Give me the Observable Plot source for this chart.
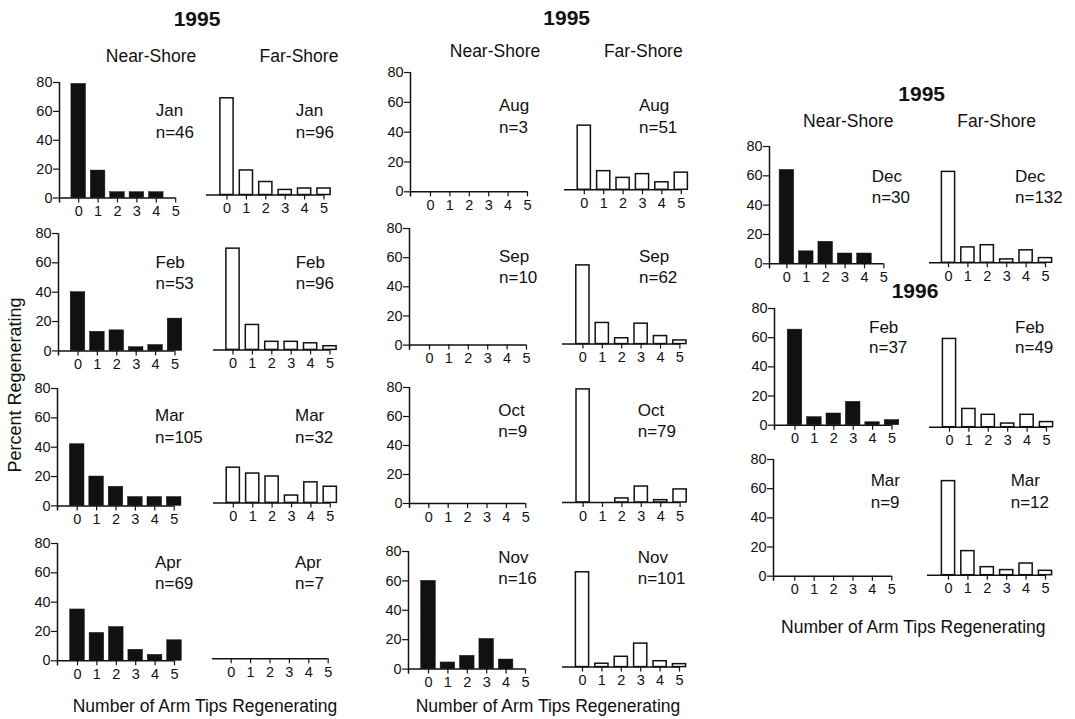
<!DOCTYPE html>
<html><head><meta charset="utf-8">
<script src="https://cdn.jsdelivr.net/npm/d3@7"></script>
<script src="https://cdn.jsdelivr.net/npm/@observablehq/plot@0.6"></script>
<style>
body{margin:0;background:#fff;}
#root{position:relative;width:1075px;height:719px;overflow:hidden;font-family:"Liberation Sans",Arial,Helvetica,sans-serif;color:#111;}
#root svg text{font-size:14.5px !important;font-family:"Liberation Sans",Arial,Helvetica,sans-serif !important;}
.lbl{position:absolute;white-space:nowrap;line-height:1;font-size:17px;}
.c{transform:translate(-50%,-50%);font-size:17.5px;}
.l{transform:translate(0,-50%);}
.b{font-weight:bold;font-size:21px;}
.rot{transform:translate(-50%,-50%) rotate(-90deg);font-size:18px;}
</style></head><body><div id="root"></div>
<script>
// ---- data ----
const armTips = [0, 1, 2, 3, 4, 5];
const pctTicks = [0, 20, 40, 60, 80];
const months = ["Jan", "Feb", "Mar", "Apr", "Aug", "Sep", "Oct", "Nov", "Dec", "Feb", "Mar"];
const nNear = [46, 53, 105, 69, 3, 10, 9, 16, 30, 37, 9];
const nFar = [96, 96, 32, 7, 51, 62, 79, 101, 132, 49, 12];
const nearPct = [
  [79, 19, 4, 4, 4, 0],        // Jan 1995
  [40, 13, 14, 2.5, 4, 22],    // Feb 1995
  [42, 20, 13, 6, 6, 6],       // Mar 1995
  [35, 19, 23, 7.5, 4, 14],    // Apr 1995
  [0, 0, 0, 0, 0, 0],          // Aug 1995
  [0, 0, 0, 0, 0, 0],          // Sep 1995
  [0, 0, 0, 0, 0, 0],          // Oct 1995
  [60, 4.5, 9, 20.5, 6.5, 0],  // Nov 1995
  [64, 8.5, 15, 7, 7, 0],      // Dec 1995
  [65.5, 5.5, 8, 16, 2, 3.5],  // Feb 1996
  [0, 0, 0, 0, 0, 0]           // Mar 1996
];
const farPct = [
  [67, 17, 9, 3.5, 4.5, 4.5],
  [69, 17, 5.5, 5.5, 4.5, 2.5],
  [24, 20, 18, 5, 14, 11],
  [0, 0, 0, 0, 0, 0],
  [43, 12.5, 8, 10.5, 5, 11.5],
  [54, 14.5, 4, 14, 5.5, 2.5],
  [78, 0, 2.8, 11, 1.6, 9],
  [64.5, 2.3, 7, 16, 4, 2],
  [62, 10.5, 12, 2.3, 8.5, 3.2],
  [60.5, 12.5, 8.5, 2.5, 8.5, 3.5],
  [64.5, 16.5, 5.5, 3.5, 8, 3]
];
const yTitle = "Percent Regenerating";
const xTitle = "Number of Arm Tips Regenerating";

// ---- layout (pixel positions of each panel) ----
// near: [axisX, tick0X, y0, y80], far: [axisX, tick0X, y0], labels: [nearX, farX, monthY, nY]
const layout = [
  {near:[58.5,77.7,197,81.5],   far:[205.5,226,194.5],  lab:[155.7,295.7,110,131.7]},
  {near:[57.5,77,350.7,233.3],  far:[213,232.5,349.3],  lab:[155.5,295.7,261.7,282.7]},
  {near:[57,76.7,505.7,388.3],  far:[212.5,232.3,502.3],lab:[155,295,415,436.7]},
  {near:[56.7,76.7,660,542.7],  far:[212.3,231,658.3],  lab:[155,295,561.7,582.7]},
  {near:[410,430,191,71.7],     far:[563.5,583.3,189],  lab:[499,639,105,127]},
  {near:[409.3,429.3,344.3,227.7],far:[562.3,582.7,344],lab:[499,639,256,277.3]},
  {near:[409,428.3,503.3,387.3],far:[561.7,582.3,502.3],lab:[498.3,637.7,410,430.7]},
  {near:[408.3,428.3,668.3,550.7],far:[561.7,581.7,666.7],lab:[498.3,637.7,556.7,578.3]},
  {near:[769.3,786.7,263.3,146],far:[929.3,948.3,262],  lab:[871.7,1015,175.7,196.7]},
  {near:[773.5,794,425,308.3],  far:[929.3,949.3,426.7],lab:[869,1015,326.7,346.7]},
  {near:[772.7,794,575.7,459],  far:[927.3,948.3,574.3],lab:[870.7,1010.7,480,501.7]}
];
const headers = [
  {t:"1995", x:197, y:18, b:true}, {t:"Near-Shore", x:151, y:57}, {t:"Far-Shore", x:299, y:57},
  {t:"1995", x:566.7, y:17, b:true}, {t:"Near-Shore", x:495, y:52}, {t:"Far-Shore", x:643.3, y:52},
  {t:"1995", x:921.7, y:93.3, b:true}, {t:"Near-Shore", x:848.3, y:121.7}, {t:"Far-Shore", x:996.7, y:121.7},
  {t:"1996", x:915, y:290, b:true},
  {t:xTitle, x:205, y:706.7}, {t:xTitle, x:548, y:706.7}, {t:xTitle, x:913.3, y:628.3}
];

const root = document.getElementById("root");
const FONT = '"Liberation Sans", Arial, Helvetica, sans-serif';
const S = 19.4;

function addLabel(text, x, y, cls) {
  const d = document.createElement("div");
  d.className = "lbl " + cls;
  d.style.left = x + "px"; d.style.top = y + "px";
  d.textContent = text;
  root.appendChild(d);
}

function panel(vals, g, near, k) {
  const [ax, t0, y0] = g;
  const lo = -(t0 - ax) / S;
  const x5 = t0 + 5 * S;
  const mL = 45, mR = 8, mT = 8, mB = 30;
  const fw = x5 - ax, fh = 80 * k;
  const data = armTips.map((t, i) => ({t, v: vals[i]})).filter(d => d.v > 0);
  const half = near ? 0.375 : 0.34;
  const marks = [
    Plot.rectY(data, {x1: d => d.t - half, x2: d => d.t + half, y1: 0, y2: d => d.v,
      fill: near ? "#111" : "#fff", stroke: "#111", strokeWidth: near ? 0.5 : 1.5}),
    Plot.ruleY([0], {stroke: "#111", strokeWidth: 1.5}),
    Plot.axisX(armTips, {tickSize: 5, tickPadding: 3, fontSize: 14.5, label: null, stroke: "#111", strokeWidth: 1.2})
  ];
  if (near) {
    marks.push(Plot.ruleX([lo], {y1: -3.5, y2: 80, stroke: "#111", strokeWidth: 1.5}));
    marks.push(Plot.axisY(pctTicks, {tickSize: 6, tickPadding: 1, fontSize: 14.5, label: null, stroke: "#111", strokeWidth: 1.2}));
  }
  const svg = Plot.plot({
    width: fw + mL + mR, height: fh + mT + mB,
    marginLeft: mL, marginRight: mR, marginTop: mT, marginBottom: mB,
    x: {type: "linear", domain: [lo, 5], label: null},
    y: {domain: [0, 80], label: null, axis: near ? undefined : null},
    style: {fontFamily: FONT, fontSize: "14.5px", color: "#111", background: "transparent", overflow: "visible"},
    marks
  });
  svg.style.position = "absolute";
  svg.style.left = (ax - mL) + "px";
  svg.style.top = (y0 - fh - mT) + "px";
  svg.style.maxWidth = "none";
  root.appendChild(svg);
}

layout.forEach((L, i) => {
  const k = (L.near[2] - L.near[3]) / 80;
  panel(nearPct[i], L.near, true, k);
  panel(farPct[i], L.far, false, k);
  const [nx, fx, my, ny] = L.lab;
  addLabel(months[i], nx, my, "l");
  addLabel("n=" + nNear[i], nx, ny, "l");
  addLabel(months[i], fx, my, "l");
  addLabel("n=" + nFar[i], fx, ny, "l");
});
headers.forEach(h => addLabel(h.t, h.x, h.y, h.b ? "c b" : "c"));
addLabel(yTitle, 15, 385, "rot");
</script></body></html>
